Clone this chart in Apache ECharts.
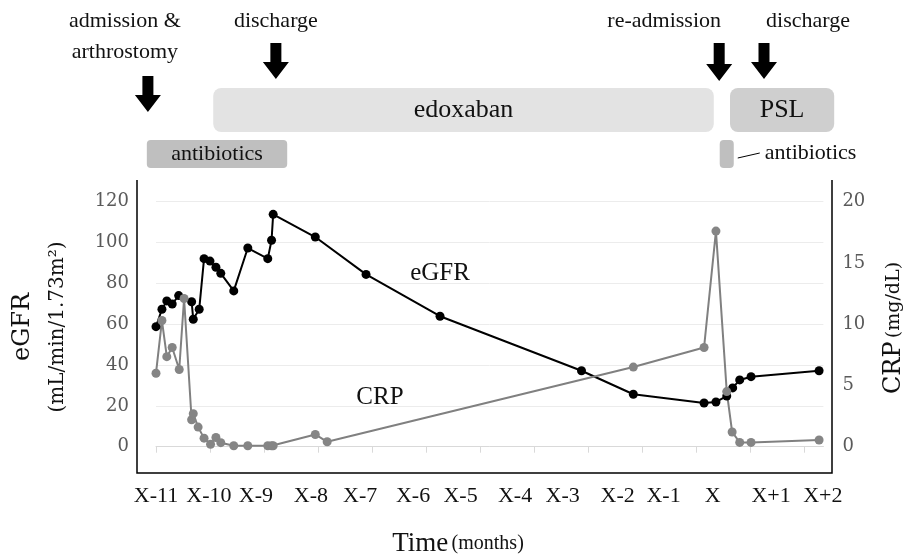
<!DOCTYPE html>
<html>
<head>
<meta charset="utf-8">
<script src="https://cdn.jsdelivr.net/npm/echarts@6/dist/echarts.min.js"></script>
<style>
  html, body { margin: 0; padding: 0; background: #fff; }
  #chart { width: 909px; height: 559px; }
</style>
</head>
<body>
<div id="chart"></div>
<script>
// time axis in tick units: X-11 tick = 0, one tick per month
const monthLabels = ['X-11', 'X-10', 'X-9', 'X-8', 'X-7', 'X-6', 'X-5', 'X-4', 'X-3', 'X-2', 'X-1', 'X', 'X+1', 'X+2']
const monthLabelPos = [0, 0.98, 1.85, 2.87, 3.78, 4.76, 5.64, 6.65, 7.53, 8.55, 9.40, 10.31, 11.39, 12.35]
const monthTicks = [0, 1, 2, 3, 4, 5, 6, 7, 8, 9, 10, 11, 12]

const egfrTime = [0, 0.11, 0.20, 0.30, 0.42, 0.66, 0.69, 0.80, 0.89, 1.00, 1.11, 1.20, 1.44, 1.70, 2.07, 2.14, 2.17, 2.95, 3.89, 5.26, 7.88, 8.84, 10.15, 10.37, 10.57, 10.68, 10.81, 11.02, 12.28]
const egfrValue = [58.8, 67.3, 71.4, 69.9, 74, 71, 62.4, 67.3, 92.1, 90.9, 87.9, 84.9, 76.3, 97.3, 92.1, 101.1, 113.8, 102.7, 84.4, 63.9, 37.2, 25.7, 21.4, 21.9, 24.8, 28.8, 32.7, 34.3, 37.2]

const crpTime = [0, 0.11, 0.20, 0.30, 0.43, 0.52, 0.66, 0.69, 0.78, 0.89, 1.01, 1.11, 1.20, 1.44, 1.70, 2.07, 2.14, 2.17, 2.95, 3.17, 8.84, 10.15, 10.37, 10.57, 10.67, 10.81, 11.02, 12.28]
const crpValue = [6.0, 10.3, 7.35, 8.1, 6.3, 12.1, 2.2, 2.7, 1.6, 0.7, 0.2, 0.75, 0.33, 0.08, 0.08, 0.08, 0.08, 0.08, 1.0, 0.4, 6.5, 8.1, 17.6, 4.5, 1.2, 0.35, 0.35, 0.55]

const eventNames = ['admission &\narthrostomy', 'discharge', 're-admission', 'discharge']
const eventTime = [-0.15, 2.22, 10.43, 11.26]

const drugNames = ['edoxaban', 'PSL', 'antibiotics', 'antibiotics']
const drugStart = [1.06, 10.63, -0.17, 10.44]
const drugEnd = [10.33, 12.56, 2.43, 10.70]
const drugRow = [0, 0, 1, 1]

const serif = '"Liberation Serif", "Times New Roman", serif'
const axisSerif = '"DejaVu Serif", serif'
const drugColors = { edoxaban: '#e3e3e3', PSL: '#cfcfcf', antibiotics: '#bfbfbf' }
const eventLabelShift = [-23, 0, -55, 44]

const chart = echarts.init(document.getElementById('chart'))

function renderDrug(params, api) {
  const i = api.value(3)
  const x0 = api.coord([api.value(0), 0])[0]
  const x1 = api.coord([api.value(1), 0])[0]
  const row = api.value(2)
  const y = row === 0 ? 88 : 140
  const h = row === 0 ? 44 : 28
  const name = drugNames[i]
  const children = [{
    type: 'rect',
    shape: { x: x0, y: y, width: x1 - x0, height: h, r: row === 0 ? 8 : 4 },
    style: { fill: drugColors[name] }
  }]
  if (x1 - x0 > 40) {
    children.push({
      type: 'text',
      style: {
        text: name, x: (x0 + x1) / 2, y: y + h / 2,
        align: 'center', verticalAlign: 'middle',
        font: (row === 0 ? 26 : 22) + 'px ' + serif, fill: '#111'
      }
    })
  } else {
    // too narrow: label to the right with a leader line
    children.push({
      type: 'line',
      shape: { x1: x1 + 4, y1: y + 18, x2: x1 + 26, y2: y + 13 },
      style: { stroke: '#000', lineWidth: 1 }
    })
    children.push({
      type: 'text',
      style: {
        text: name, x: x1 + 31, y: y + 13,
        align: 'left', verticalAlign: 'middle',
        font: '22px ' + serif, fill: '#111'
      }
    })
  }
  return { type: 'group', children: children }
}

function renderEvent(params, api) {
  const i = api.value(1)
  const x = api.coord([api.value(0), 0])[0]
  const lines = eventNames[i].split('\n').length
  const top = lines > 1 ? 76 : 43
  const len = i === 2 ? 38 : 36
  const sw = 5.5, hw = 13, hh = 17
  return {
    type: 'group',
    children: [{
      type: 'polygon',
      shape: {
        points: [
          [x - sw, top], [x + sw, top], [x + sw, top + len - hh], [x + hw, top + len - hh],
          [x, top + len], [x - hw, top + len - hh], [x - sw, top + len - hh]
        ]
      },
      style: { fill: '#000' }
    }, {
      type: 'text',
      style: {
        text: eventNames[i], x: x + eventLabelShift[i], y: 6,
        align: 'center', verticalAlign: 'top', lineHeight: 31,
        font: '22px ' + serif, fill: '#111'
      }
    }]
  }
}

chart.setOption({
  animation: false,
  grid: {
    left: 156, right: 85.6, top: 201.7, bottom: 112.3,
    containLabel: false, outerBoundsMode: 'none'
  },
  xAxis: {
    type: 'value', min: 0, max: 12.36,
    axisLine: { show: true, lineStyle: { color: '#d9d9d9', width: 1 } },
    axisTick: { show: true, customValues: monthTicks, length: 6, lineStyle: { color: '#d9d9d9' } },
    axisLabel: {
      customValues: monthLabelPos,
      formatter: function (v) {
        const i = monthLabelPos.findIndex(p => Math.abs(p - v) < 1e-6)
        return i >= 0 ? monthLabels[i] : ''
      },
      margin: 39, fontFamily: serif, fontSize: 22, color: '#111'
    },
    splitLine: { show: false }
  },
  yAxis: [{
    type: 'value', min: 0, max: 120, interval: 20,
    axisLine: { show: false }, axisTick: { show: false },
    axisLabel: { color: '#5a5a5a', fontFamily: axisSerif, fontSize: 18, margin: 27 },
    splitLine: { lineStyle: { color: '#ececec', width: 1 } }
  }, {
    type: 'value', min: 0, max: 20, interval: 5, position: 'right',
    axisLine: { show: false }, axisTick: { show: false },
    axisLabel: { color: '#5a5a5a', fontFamily: axisSerif, fontSize: 18, margin: 19 },
    splitLine: { show: false }
  }],
  series: [{
    name: 'eGFR',
    type: 'line',
    yAxisIndex: 0,
    data: egfrTime.map((t, i) => [t, egfrValue[i]]),
    symbol: 'circle', symbolSize: 9,
    itemStyle: { color: '#000' },
    lineStyle: { color: '#000', width: 2 }
  }, {
    name: 'CRP',
    type: 'line',
    yAxisIndex: 1,
    data: crpTime.map((t, i) => [t, crpValue[i]]),
    symbol: 'circle', symbolSize: 9,
    itemStyle: { color: '#858585' },
    lineStyle: { color: '#808080', width: 2 }
  }, {
    type: 'custom',
    silent: true,
    clip: false,
    data: drugNames.map((n, i) => [drugStart[i], drugEnd[i], drugRow[i], i]),
    renderItem: renderDrug
  }, {
    type: 'custom',
    silent: true,
    clip: false,
    data: eventNames.map((n, i) => [eventTime[i], i]),
    renderItem: renderEvent
  }],
  graphic: [
    // plot frame
    { type: 'polyline', shape: { points: [[137, 180], [137, 473], [832, 473], [832, 180]] }, style: { stroke: '#000', lineWidth: 1.5, fill: null } },
    { type: 'text', x: 440, y: 273, style: { text: 'eGFR', align: 'center', verticalAlign: 'middle', font: '25px ' + serif, fill: '#111' } },
    { type: 'text', x: 380, y: 397, style: { text: 'CRP', align: 'center', verticalAlign: 'middle', font: '25px ' + serif, fill: '#111' } },
    { type: 'text', x: 23, y: 327, rotation: Math.PI / 2, style: { text: 'eGFR', align: 'center', verticalAlign: 'middle', font: '24px ' + axisSerif, fill: '#111' } },
    { type: 'text', x: 58, y: 327, rotation: Math.PI / 2, style: { text: '(mL/min/1.73m²)', align: 'center', verticalAlign: 'middle', font: '20px ' + axisSerif, fill: '#111' } },
    {
      type: 'text', x: 894, y: 328, rotation: Math.PI / 2,
      style: {
        text: '{a|CRP} {b|(mg/dL)}', align: 'center', verticalAlign: 'middle',
        rich: { a: { font: '24px ' + axisSerif, fill: '#111' }, b: { font: '19px ' + axisSerif, fill: '#111' } }
      }
    },
    {
      type: 'text', x: 458, y: 544,
      style: {
        text: '{a|Time} {b|(months)}', align: 'center', verticalAlign: 'middle',
        rich: { a: { font: '27px ' + serif, fill: '#111' }, b: { font: '20px ' + serif, fill: '#111' } }
      }
    }
  ]
})
</script>
</body>
</html>
